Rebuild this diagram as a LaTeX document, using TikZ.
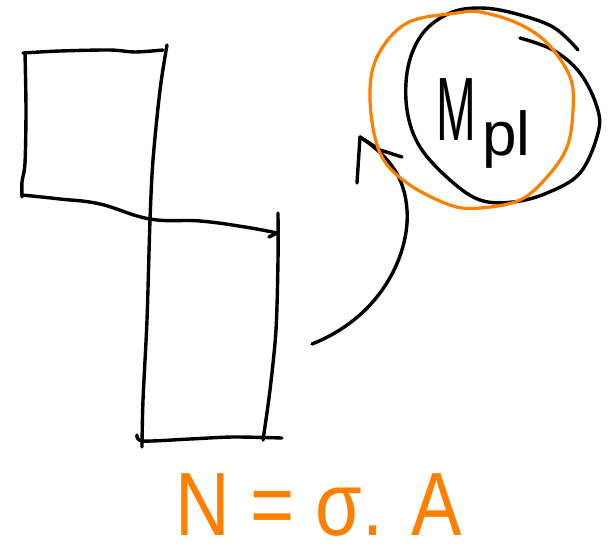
\documentclass[tikz,border=0pt]{standalone}
\usepackage{fontspec}
\newfontfamily\handfont{Liberation Sans}
\definecolor{marker}{RGB}{255,128,0}
\begin{document}
\begin{tikzpicture}[x=1pt,y=-1pt,
  ink/.style={line width=3.4pt, line cap=round, line join=round, black},
  hl/.style={line width=3.2pt, line cap=round, line join=round, marker},
  big/.style={font=\handfont\fontsize{90}{90}\selectfont, inner sep=0pt}]
\useasboundingbox (0,0) rectangle (608,549);

% upper block
\draw[ink] plot[smooth, tension=0.5] coordinates {(23,53) (60,51) (110,50) (135,52) (163,50)};
\draw[ink] plot[smooth, tension=0.5] coordinates {(25,53) (26,110) (25,163) (22,182) (22,197)};
\draw[ink] plot[smooth, tension=0.5] coordinates {(167,45) (160,90) (153,160) (150,220) (147,320) (143,400) (142,447)};
\draw[ink] plot[smooth, tension=0.7] coordinates {(22,195) (60,199) (100,204) (150,219) (200,221) (245,227) (277,233)};
\draw[ink] (277,233) -- (269,237);

% lower block
\draw[ink] plot[smooth, tension=0.5] coordinates {(278,213) (278,260) (276,330) (270,390) (263,440)};
\draw[ink] plot[smooth, tension=0.5] coordinates {(137,435) (143,441) (190,439) (233,437) (282,438)};

% curved arrow towards the circle
\coordinate (tail) at (312,344);
\coordinate (tip) at (360,137);
\draw[ink] (tail) .. controls (385,315) and (410,250) .. (407,210)
  .. controls (405,180) and (392,158) .. (tip);
\draw[ink] (tip) -- (357,183);
\draw[ink] (tip) -- (380,150) -- (402,157);

% black circle
\draw[ink] plot[smooth, tension=0.6] coordinates {(578,50) (553,27) (513,13) (480,8) (450,13) (423,33) (408,67) (407,110) (420,147) (450,180) (480,200) (513,202) (547,193) (580,173) (598,133) (597,107) (580,73) (553,50) (520,38)};

% orange circle
\draw[hl] plot[smooth cycle, tension=0.6] coordinates {(457,13) (407,23) (377,57) (370,100) (380,153) (407,183) (450,205) (480,208) (520,200) (547,177) (567,147) (573,110) (570,77) (547,43) (517,23) (480,12)};

% label inside the circle
\node[anchor=base west, inner sep=0pt, xscale=0.53, font=\handfont\fontsize{90}{90}\selectfont] (m) at (436,140) {M};
\node[anchor=base west, inner sep=0pt, font=\handfont\fontsize{62}{62}\selectfont] (pl) at (482,155) {pl};

% equation
\node[big, anchor=base west, xscale=0.84, text=marker] (eq) at (175,535) {N = σ. A};
\end{tikzpicture}
\end{document}
